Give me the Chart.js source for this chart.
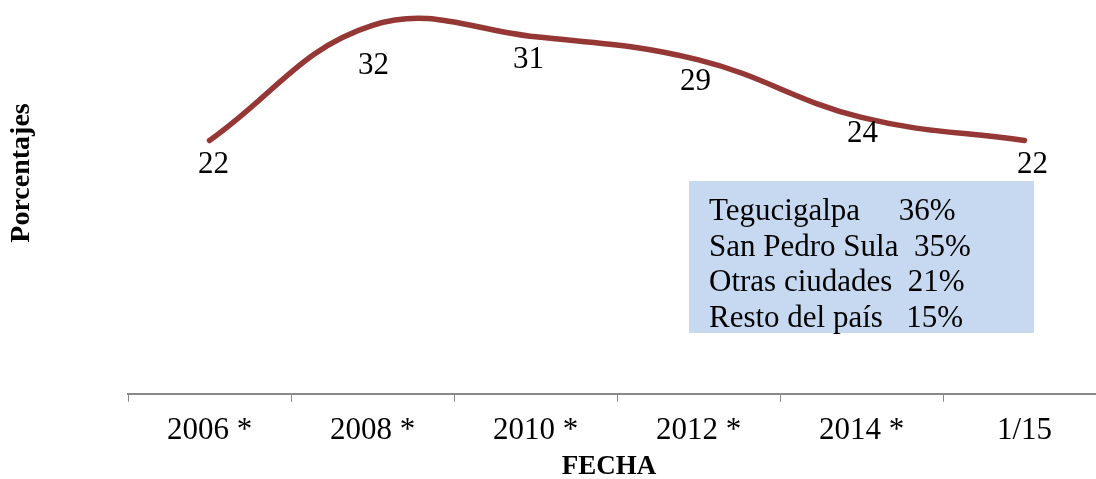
<!DOCTYPE html>
<html>
<head>
<meta charset="utf-8">
<script src="https://cdn.jsdelivr.net/npm/chart.js@4/dist/chart.umd.min.js"></script>
<style>
  html, body { margin: 0; padding: 0; background: #fff; overflow: hidden; }
  #wrap { width: 1108px; height: 479px; }
</style>
</head>
<body>
<div id="wrap"><canvas id="chart" width="1108" height="479"></canvas></div>
<script>
// values
const fechas = ['2006 *', '2008 *', '2010 *', '2012 *', '2014 *', '1/15'];
const porcentajes = [22, 32, 31, 29, 24, 22];

// text box contents
const ciudades = ['Tegucigalpa', 'San Pedro Sula', 'Otras ciudades', 'Resto del país'];
const participacion = ['36%', '35%', '21%', '15%'];
const separadores = ['     ', '  ', '  ', '   '];

const SERIF = '"Liberation Serif", "Times New Roman", serif';
const C = {
  line: '#953735',
  axis: '#898989',
  text: '#000',
  box: '#c6d9f1',
};

// label nudges (px) so they sit like the Excel labels
const labelNudge = {
  dx: [4, 1, -7, -3, 1, 8],
  dy: [24, 41, 23, 22, 16, 24],
};

const extras = {
  id: 'extras',
  afterDatasetsDraw(chart) {
    const ctx = chart.ctx;
    const meta = chart.getDatasetMeta(0);
    ctx.save();
    ctx.fillStyle = C.text;
    ctx.font = '31px ' + SERIF;
    ctx.textAlign = 'center';
    ctx.textBaseline = 'middle';
    meta.data.forEach((pt, i) => {
      ctx.fillText(String(porcentajes[i]), pt.x + labelNudge.dx[i], pt.y + labelNudge.dy[i]);
    });

    // shaded text box
    ctx.fillStyle = C.box;
    ctx.fillRect(689, 181, 345, 152);
    ctx.fillStyle = C.text;
    ctx.textAlign = 'left';
    ctx.textBaseline = 'alphabetic';
    ctx.font = '31px ' + SERIF;
    ciudades.forEach((c, i) => {
      ctx.fillText(c + separadores[i] + participacion[i], 709, 220 + i * 35.7);
    });

    // axis titles
    ctx.font = 'bold 27px ' + SERIF;
    ctx.textAlign = 'center';
    ctx.textBaseline = 'middle';
    ctx.fillText('FECHA', 609, 467);
    ctx.font = 'bold 28px ' + SERIF;
    ctx.translate(22, 173);
    ctx.rotate(-Math.PI / 2);
    ctx.fillText('Porcentajes', 0, 0);
    ctx.restore();
  },
};

new Chart(document.getElementById('chart'), {
  type: 'line',
  data: {
    labels: fechas,
    datasets: [{
      data: porcentajes,
      borderColor: C.line,
      backgroundColor: C.line,
      borderWidth: 5.5,
      borderCapStyle: 'round',
      borderJoinStyle: 'round',
      tension: 0.4,
      pointRadius: 0,
      clip: false,
    }],
  },
  options: {
    responsive: false,
    animation: false,
    layout: { padding: { left: 128, right: 2, top: 0, bottom: 20 } },
    plugins: { legend: { display: false }, tooltip: { enabled: false } },
    scales: {
      x: {
        offset: true,
        border: { color: C.axis, width: 2 },
        grid: { drawOnChartArea: false, drawTicks: true, tickLength: 8, color: C.axis, tickColor: C.axis, offset: true },
        ticks: { color: C.text, font: { family: SERIF, size: 31 }, padding: 10, maxRotation: 0 },
      },
      y: { display: false, min: 0, max: 34.2 },
    },
  },
  plugins: [extras],
});
</script>
</body>
</html>
